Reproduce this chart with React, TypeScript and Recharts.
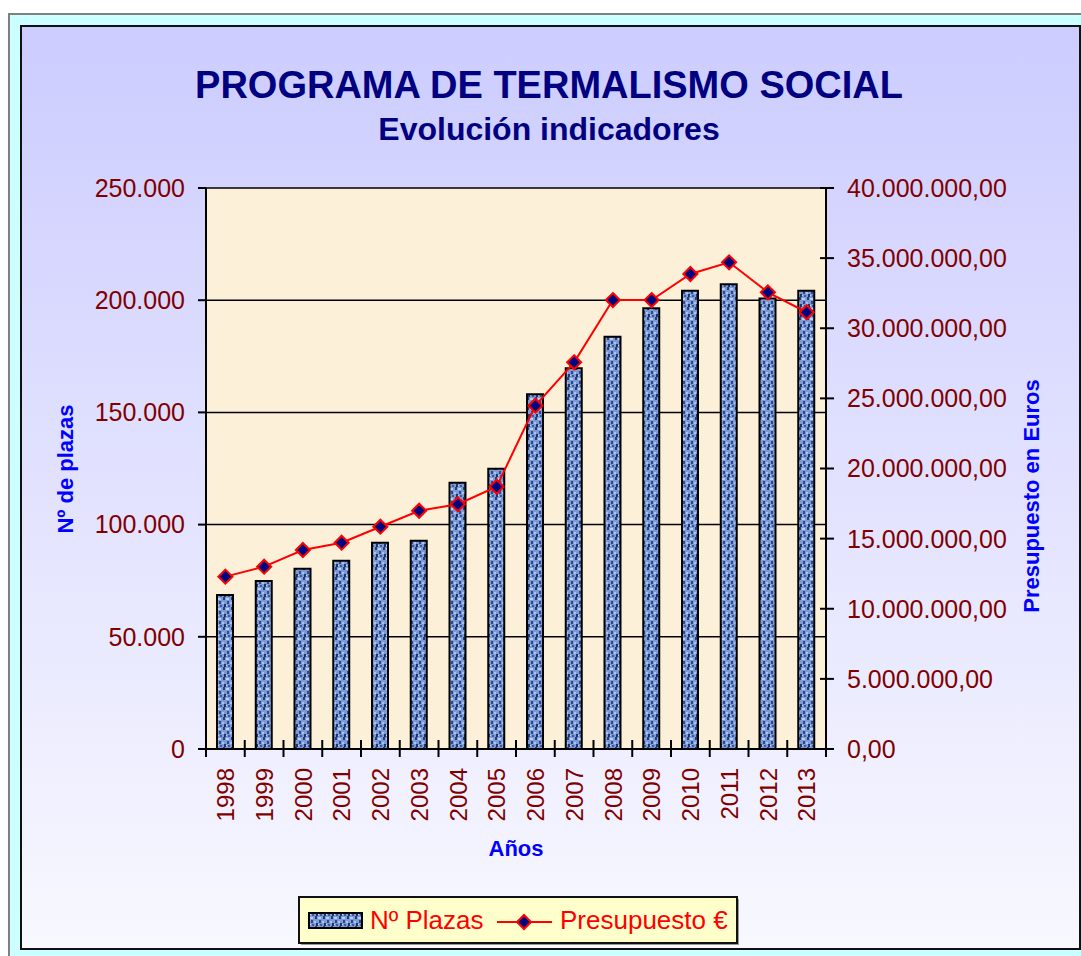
import React from 'react';
import { ComposedChart, Bar, Line, XAxis, YAxis, CartesianGrid } from 'recharts';

// Datos
const anos = ['1998', '1999', '2000', '2001', '2002', '2003', '2004', '2005', '2006', '2007', '2008', '2009', '2010', '2011', '2012', '2013'];
const plazas = [68600, 74900, 80300, 83900, 91900, 92800, 118700, 124900, 158100, 169700, 183700, 196400, 204200, 207100, 200800, 204200];
const presupuesto = [12290000, 13000000, 14190000, 14710000, 15850000, 16990000, 17450000, 18700000, 24480000, 27570000, 32010000, 32010000, 33870000, 34700000, 32560000, 31140000];
const ticksPlazas = [0, 50000, 100000, 150000, 200000, 250000];
const ticksEuros = [0, 5000000, 10000000, 15000000, 20000000, 25000000, 30000000, 35000000, 40000000];

const data = anos.map((ano, i) => ({ ano, plazas: plazas[i], presupuesto: presupuesto[i] }));

const ANCHO_PLOT = 620;
const ROJO_OSCURO = '#800000';
const FUENTE = '"Liberation Sans", Arial, sans-serif';

const miles = (v: number) => Math.round(v).toString().replace(/\B(?=(\d{3})+(?!\d))/g, '.');
const fmtPlazas = (v: number) => (v === 0 ? '0' : miles(v));
const fmtEuros = (v: number) => miles(v) + ',00';

const TickAno = (props: any) => {
  const { x, y, payload, index } = props;
  const band = ANCHO_PLOT / anos.length;
  const ty = y + 19;
  return (
    <g>
      <line x1={x - band / 2} x2={x - band / 2} y1={y - 9} y2={y + 8} stroke="#000" strokeWidth={2} />
      {index === anos.length - 1 && (
        <line x1={x + band / 2} x2={x + band / 2} y1={y - 9} y2={y + 8} stroke="#000" strokeWidth={2} />
      )}
      <text x={x} y={ty} transform={`rotate(-90 ${x} ${ty})`} textAnchor="end" dy="0.36em" fill={ROJO_OSCURO} fontSize={24}>
        {payload.value}
      </text>
    </g>
  );
};

const TickPlazas = (props: any) => {
  const { x, y, payload } = props;
  return (
    <g>
      <line x1={x - 8} x2={x} y1={y} y2={y} stroke="#000" strokeWidth={2} />
      <text x={x - 21} y={y} dy="0.355em" textAnchor="end" fill={ROJO_OSCURO} fontSize={25}>
        {fmtPlazas(payload.value)}
      </text>
    </g>
  );
};

const TickEuros = (props: any) => {
  const { x, y, payload } = props;
  return (
    <g>
      <line x1={x - 6} x2={x + 8} y1={y} y2={y} stroke="#000" strokeWidth={2} />
      <text x={x + 21} y={y} dy="0.355em" textAnchor="start" fill={ROJO_OSCURO} fontSize={25}>
        {fmtEuros(payload.value)}
      </text>
    </g>
  );
};

const Rombo = (props: any) => {
  const { cx, cy } = props;
  if (cx == null || cy == null) return null;
  const r = 7;
  return (
    <polygon
      points={`${cx},${cy - r} ${cx + r},${cy} ${cx},${cy + r} ${cx - r},${cy}`}
      fill="#000080"
      stroke="#ff0000"
      strokeWidth={2}
    />
  );
};

const Textura = ({ id }: { id: string }) => (
  <pattern id={id} width="8" height="10" patternUnits="userSpaceOnUse">
    <rect width="8" height="10" fill="#7d9ad6" />
    <rect x="1" y="0" width="2" height="3" fill="#23407e" />
    <rect x="5" y="4" width="2" height="3" fill="#2c4b8e" />
    <rect x="4" y="1" width="3" height="2" fill="#b9cff3" />
    <rect x="0" y="5" width="2" height="2" fill="#a9c2ee" />
    <rect x="6" y="8" width="2" height="2" fill="#3a5a9c" />
    <rect x="2" y="7" width="2" height="3" fill="#1e3670" />
    <rect x="4" y="8" width="1" height="1" fill="#c8daf7" />
  </pattern>
);

export default function App() {
  return (
    <div style={{ position: 'absolute', left: 0, top: 0, width: 1081, height: 956, overflow: 'hidden', background: '#fff', fontFamily: FUENTE }}>
      {/* marco exterior */}
      <div style={{ position: 'absolute', left: 8, top: 13, width: 1073, height: 943, boxSizing: 'border-box', borderLeft: '2px solid #808080', borderTop: '2px solid #808080', background: '#ccffff' }} />
      <div style={{ position: 'absolute', left: 20, top: 25, width: 1061, height: 925, boxSizing: 'border-box', border: '2px solid #111', background: 'linear-gradient(to bottom, #ccccff 0%, #f8f8ff 100%)' }} />

      <div style={{ position: 'absolute', left: 22, top: 27 }}>
        <ComposedChart width={1057} height={921} data={data} margin={{ top: 161, right: 53, bottom: 99, left: 84 }}>
          <defs>
            <Textura id="texturaAzul" />
          </defs>
          <CartesianGrid yAxisId="izq" vertical={false} stroke="#000" strokeWidth={1.5} fill="#fcf0d8" fillOpacity={1} />
          <XAxis dataKey="ano" height={100} interval={0} tickSize={0} tickMargin={0} tick={<TickAno />} tickLine={false} axisLine={{ stroke: '#000', strokeWidth: 2 }} />
          <YAxis yAxisId="izq" orientation="left" width={100} domain={[0, 250000]} ticks={ticksPlazas} tickSize={0} tickMargin={0} tick={<TickPlazas />} tickLine={false} axisLine={{ stroke: '#000', strokeWidth: 2 }} />
          <YAxis yAxisId="der" orientation="right" width={200} domain={[0, 40000000]} ticks={ticksEuros} tickSize={0} tickMargin={0} tick={<TickEuros />} tickLine={false} axisLine={{ stroke: '#000', strokeWidth: 2 }} />
          <Bar yAxisId="izq" dataKey="plazas" barSize={16} fill="url(#texturaAzul)" stroke="#000" strokeWidth={2} isAnimationActive={false} />
          <Line yAxisId="der" type="linear" dataKey="presupuesto" stroke="#ff0000" strokeWidth={2} dot={<Rombo />} activeDot={false} isAnimationActive={false} />
        </ComposedChart>
      </div>

      {/* textos */}
      <svg width={1081} height={956} style={{ position: 'absolute', left: 0, top: 0, pointerEvents: 'none' }}>
        <text x={549} y={98} textAnchor="middle" fontSize={38} fontWeight="bold" fill="#000080">PROGRAMA DE TERMALISMO SOCIAL</text>
        <text x={549} y={140} textAnchor="middle" fontSize={32} fontWeight="bold" fill="#000080">Evolución indicadores</text>
        <text x={73} y={469} transform="rotate(-90 73 469)" textAnchor="middle" fontSize={22} fontWeight="bold" fill="#0000ff">Nº de plazas</text>
        <text x={1039} y={496} transform="rotate(-90 1039 496)" textAnchor="middle" fontSize={22} fontWeight="bold" fill="#0000ff">Presupuesto en Euros</text>
        <text x={516} y={856} textAnchor="middle" fontSize={22} fontWeight="bold" fill="#0000ff">Años</text>
      </svg>

      {/* leyenda */}
      <svg width={444} height={52} style={{ position: 'absolute', left: 298, top: 896 }}>
        <defs>
          <Textura id="texturaLeyenda" />
        </defs>
        <rect x={3} y={3} width={438} height={46} fill="#999" />
        <rect x={1} y={1} width={438} height={46} fill="#ffffcc" stroke="#111" strokeWidth={2} />
        <rect x={11} y={17} width={53} height={15} fill="url(#texturaLeyenda)" stroke="#000" strokeWidth={2} />
        <text x={72} y={33} fontSize={26} fill="#ff0000">Nº Plazas</text>
        <line x1={199} x2={254} y1={26} y2={26} stroke="#ff0000" strokeWidth={2} />
        <Rombo cx={226} cy={26} />
        <text x={262} y={33} fontSize={26} fill="#ff0000">Presupuesto €</text>
      </svg>
    </div>
  );
}
